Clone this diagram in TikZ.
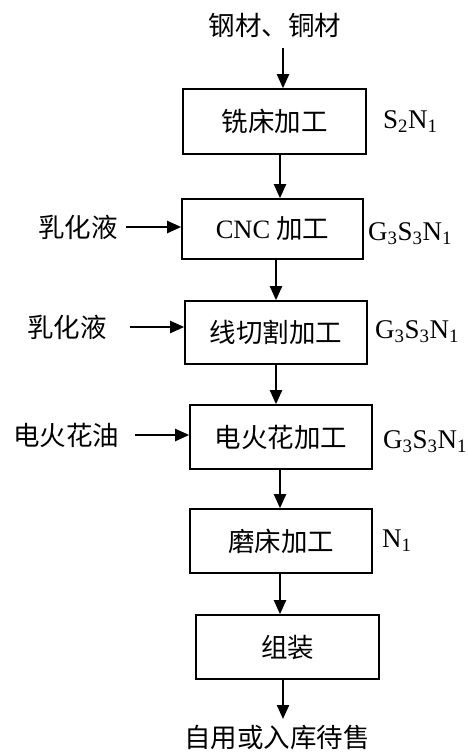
\documentclass[tikz,border=0pt]{standalone}
\usepackage{fontspec}
\setmainfont{Liberation Serif}
\newfontfamily\cjk{Noto Sans CJK SC}
\usetikzlibrary{arrows.meta}
\begin{document}
\begin{tikzpicture}[x=1pt,y=-1pt,
  stepbox/.style={draw,line width=1.6pt,minimum width=182pt,minimum height=63pt,inner sep=0pt,font=\fontsize{26.5}{30}\selectfont\cjk},
  lbl/.style={inner sep=0pt,font=\fontsize{26.5}{30}\selectfont\cjk},
  code/.style={inner sep=0pt,anchor=west,font=\fontsize{27}{30}\selectfont},
  arr/.style={line width=2.2pt,-{Triangle[length=14pt,width=12pt]}}]
\useasboundingbox (0,0) rectangle (468,753);
\node[lbl] (top) at (275,25) {钢材、铜材};
\node[stepbox,minimum width=183pt,minimum height=65pt] (b1) at (274.5,121.5) {铣床加工};
\node[stepbox,minimum width=181pt,minimum height=60pt] (b2) at (272.5,229) {{\rmfamily CNC} 加工};
\node[stepbox,minimum height=63pt] (b3) at (276,332.5) {线切割加工};
\node[stepbox,minimum height=64pt] (b4) at (281,437) {电火花加工};
\node[stepbox,minimum height=64pt] (b5) at (281,541) {磨床加工};
\node[stepbox,minimum width=183pt,minimum height=64pt] (b6) at (287.5,647) {组装};
\node[lbl] (bot) at (277,737) {自用或入库待售};
\node[lbl] (in1) at (78,227) {乳化液};
\node[lbl] (in2) at (67,327) {乳化液};
\node[lbl] (in3) at (66,435) {电火花油};
\node[code] (c1) at (383,122) {S\textsubscript{2}N\textsubscript{1}};
\node[code] (c2) at (368,234) {G\textsubscript{3}S\textsubscript{3}N\textsubscript{1}};
\node[code] (c3) at (375,332) {G\textsubscript{3}S\textsubscript{3}N\textsubscript{1}};
\node[code] (c4) at (383,442) {G\textsubscript{3}S\textsubscript{3}N\textsubscript{1}};
\node[code] (c5) at (382,541) {N\textsubscript{1}};
\draw[arr] ([shift={(8,23)}]top.center) -- ([xshift=8]top.center |- b1.north);
\draw[arr] ([xshift=5.5]b1.south) -- ([xshift=5.5]b1.south |- b2.north);
\draw[arr] ([xshift=3.5]b2.south) -- ([xshift=3.5]b2.south |- b3.north);
\draw[arr] (b3.south) -- (b3.south |- b4.north);
\draw[arr] ([xshift=-1]b4.south) -- ([xshift=-1]b4.south |- b5.north);
\draw[arr] ([xshift=-1]b5.south) -- ([xshift=-1]b5.south |- b6.north);
\draw[arr] ([xshift=-4.5]b6.south) -- ([shift={(6,-18)}]bot.center);
\draw[arr] ([xshift=48]in1.center) -- (in1.center -| b2.west);
\draw[arr] ([xshift=63]in2.center) -- (in2.center -| b3.west);
\draw[arr] ([xshift=69]in3.center) -- (in3.center -| b4.west);
\end{tikzpicture}
\end{document}
